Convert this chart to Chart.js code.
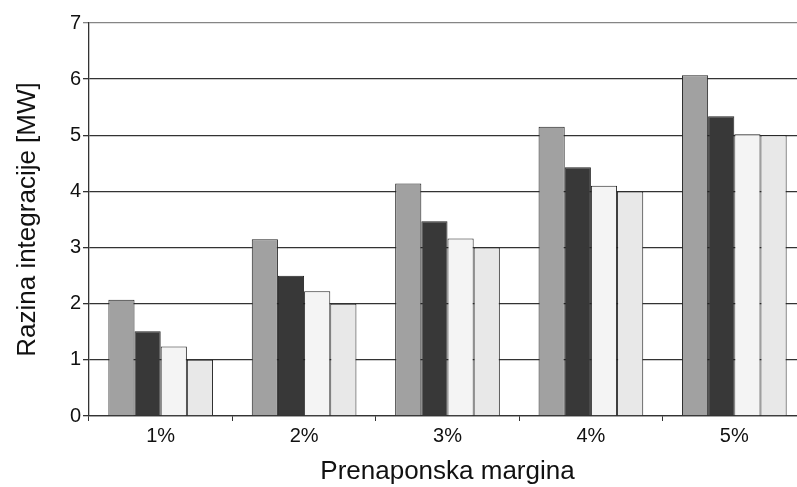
<!DOCTYPE html>
<html>
<head>
<meta charset="utf-8">
<title>Razina integracije</title>
<script src="https://cdn.jsdelivr.net/npm/chart.js@4/dist/chart.umd.min.js"></script>
<style>
  html, body { margin: 0; padding: 0; background: #fff; overflow: hidden; }
  #holder { width: 810px; height: 487px; }
</style>
</head>
<body>
<div id="holder">
  <canvas id="integrationChart" width="810" height="487"></canvas>
</div>
<script>
'use strict';

//chart data
var categories = ['1%', '2%', '3%', '4%', '5%'];
var seriesOne = [2.07, 3.15, 4.14, 5.15, 6.07];
var seriesTwo = [1.51, 2.50, 3.47, 4.43, 5.34];
var seriesThree = [1.24, 2.22, 3.16, 4.10, 5.02];
var seriesFour = [1.00, 2.00, 3.00, 4.00, 5.00];
var yTicks = [0, 1, 2, 3, 4, 5, 6, 7];

var xTitle = 'Prenaponska margina';
var yTitle = 'Razina integracije [MW]';

var fontName = '"Liberation Sans", Arial, sans-serif';

function makeDataset(values, fill) {
  return {
    data: values,
    backgroundColor: fill,
    borderColor: '#222',
    borderWidth: 1,
    borderSkipped: 'bottom',
    barPercentage: 1,
    categoryPercentage: 0.73
  };
}

var data = {
  labels: categories,
  datasets: [
    makeDataset(seriesOne, '#a1a1a1'),
    makeDataset(seriesTwo, '#383838'),
    makeDataset(seriesThree, '#f4f4f4'),
    makeDataset(seriesFour, '#e8e8e8')
  ]
};

function drawChart() {
  var ctx = document.getElementById('integrationChart').getContext('2d');
  new Chart(ctx, {
    type: 'bar',
    data: data,
    options: {
      responsive: false,
      animation: false,
      devicePixelRatio: 1,
      layout: {
        padding: { left: 0, right: 4, top: 23, bottom: 0 }
      },
      plugins: {
        legend: { display: false },
        tooltip: { enabled: false }
      },
      scales: {
        x: {
          offset: true,
          grid: {
            offset: true,
            drawOnChartArea: false,
            tickLength: 5,
            color: '#333',
            lineWidth: 1
          },
          border: { color: '#333', width: 1.3 },
          ticks: {
            color: '#111',
            padding: 3,
            font: { family: fontName, size: 20 }
          },
          title: {
            display: true,
            text: xTitle,
            color: '#111',
            padding: { top: 0, bottom: 0 },
            font: { family: fontName, size: 26 }
          },
          afterFit: function (scale) { scale.height = 71; }
        },
        y: {
          min: 0,
          max: 7,
          afterBuildTicks: function (scale) {
            scale.ticks = yTicks.map(function (v) { return { value: v }; });
          },
          grid: {
            tickLength: 6,
            lineWidth: 1.3,
            color: function (c) {
              return c.tick && c.tick.value === 7 ? '#858585' : '#333';
            }
          },
          border: { color: '#333', width: 1.3 },
          ticks: {
            color: '#111',
            padding: 2,
            font: { family: fontName, size: 20 }
          },
          title: {
            display: true,
            text: yTitle,
            color: '#111',
            padding: { top: 12, bottom: 0 },
            font: { family: fontName, size: 26 }
          },
          afterFit: function (scale) { scale.width = 89; }
        }
      }
    }
  });
}

drawChart();
</script>
</body>
</html>
